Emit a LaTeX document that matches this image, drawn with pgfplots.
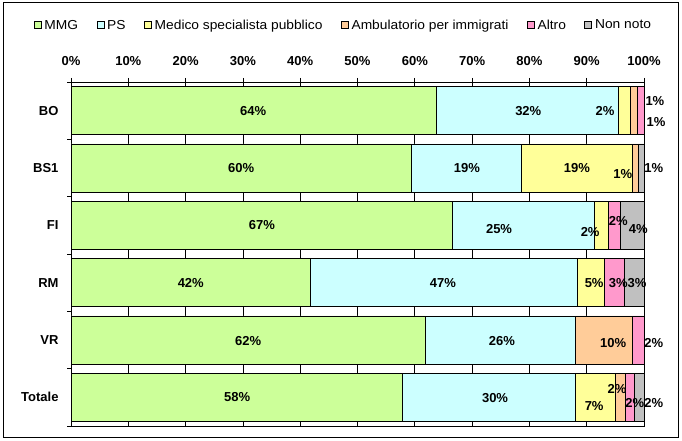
\documentclass[border=0pt]{standalone}
\usepackage{fontspec}
\setmainfont{Liberation Sans}
\newfontfamily\legfont[FakeStretch=1.06]{Liberation Sans}
\usepackage{pgfplots}
\pgfplotsset{compat=1.18}
\definecolor{cMMG}{RGB}{204,255,153}
\definecolor{cPS}{RGB}{204,255,255}
\definecolor{cMed}{RGB}{255,255,153}
\definecolor{cAmb}{RGB}{255,204,153}
\definecolor{cAlt}{RGB}{255,153,204}
\definecolor{cNN}{RGB}{192,192,192}
\begin{document}
\begin{tikzpicture}[x=1bp,y=1bp]
\useasboundingbox (0,0) rectangle (682,441);
\draw[line width=0.8bp] (3,4) rectangle (678.5,439);
\begin{axis}[
  at={(71bp,15bp)}, anchor=south west,
  scale only axis, width=573bp, height=344bp,
  xbar stacked, bar width=48bp,
  xmin=0, xmax=100, ymin=-0.5, ymax=5.5, y dir=reverse,
  xtick={0,10,...,100},
  xticklabels={0\%,10\%,20\%,30\%,40\%,50\%,60\%,70\%,80\%,90\%,100\%},
  xtick pos=right, xticklabel pos=right,
  xticklabel shift=9bp,
  ytick={-0.5,0.5,...,5.5}, y tick label as interval,
  yticklabels={BO,BS1,FI,RM,VR,Totale},
  ytick pos=left,
  yticklabel shift=5bp,
  tick align=outside, major tick length=4bp,
  xmajorgrids, grid style={black, line width=0.7bp},
  axis line style={line width=0.7bp},
  tick style={black, line width=0.7bp},
  ticklabel style={font=\fontsize{13bp}{15bp}\selectfont\bfseries},
  clip=false,
  every axis plot/.append style={draw=black, line width=0.7bp},
  legend image code/.code={\draw[#1,draw=black,line width=0.6bp] (0bp,-3.5bp) rectangle (7bp,3.5bp);},
  legend style={at={(0.475,1.165)}, anchor=center, draw=none, fill=none,
    legend columns=-1,
    /tikz/every even column/.append style={column sep=17bp},
    /tikz/every odd column/.append style={column sep=1.5bp},
    font=\legfont\fontsize{13bp}{15bp}\selectfont, inner sep=0pt, nodes={inner sep=1.5bp}},
]
\addplot[fill=cMMG] coordinates {(63.7,0) (59.4,1) (66.5,2) (41.8,3) (61.8,4) (57.8,5)};
\addplot[fill=cPS]  coordinates {(31.8,0) (19.2,1) (24.9,2) (46.6,3) (26.2,4) (30.2,5)};
\addplot[fill=cMed] coordinates {(2.2,0) (19.4,1) (2.4,2) (4.7,3) (0,4) (7.0,5)};
\addplot[fill=cAmb] coordinates {(1.2,0) (1.0,1) (0,2) (0,3) (10.0,4) (1.8,5)};
\addplot[fill=cAlt] coordinates {(1.1,0) (0,1) (2.1,2) (3.4,3) (2.0,4) (1.5,5)};
\addplot[fill=cNN]  coordinates {(0,0) (1.0,1) (4.1,2) (3.5,3) (0,4) (1.7,5)};
\legend{MMG,PS,Medico specialista pubblico,Ambulatorio per immigrati,Altro,Non noto}
% label anchor points (axis coordinates)
\coordinate (a1) at (axis cs:31.8,0);
\coordinate (a2) at (axis cs:79.8,0);
\coordinate (a3) at (axis cs:93.2,0);
\coordinate (a4) at (axis cs:101.9,-0.17);
\coordinate (a5) at (axis cs:102.1,0.2);
\coordinate (b1) at (axis cs:29.7,1);
\coordinate (b2) at (axis cs:69.1,1);
\coordinate (b3) at (axis cs:88.3,1);
\coordinate (b4) at (axis cs:96.3,1.1);
\coordinate (b5) at (axis cs:101.7,1);
\coordinate (c1) at (axis cs:33.3,2);
\coordinate (c2) at (axis cs:74.7,2.06);
\coordinate (c3) at (axis cs:90.6,2.12);
\coordinate (c4) at (axis cs:95.5,1.93);
\coordinate (c5) at (axis cs:99.0,2.06);
\coordinate (d1) at (axis cs:20.9,3);
\coordinate (d2) at (axis cs:64.9,3);
\coordinate (d3) at (axis cs:91.3,3);
\coordinate (d4) at (axis cs:95.5,3);
\coordinate (d5) at (axis cs:98.8,3);
\coordinate (e1) at (axis cs:30.9,4.02);
\coordinate (e2) at (axis cs:75.2,4.02);
\coordinate (e3) at (axis cs:94.6,4.05);
\coordinate (e4) at (axis cs:101.7,4.05);
\coordinate (f1) at (axis cs:29.0,5);
\coordinate (f2) at (axis cs:74.0,5.02);
\coordinate (f3) at (axis cs:91.3,5.15);
\coordinate (f4) at (axis cs:95.3,4.85);
\coordinate (f5) at (axis cs:98.4,5.1);
\coordinate (f6) at (axis cs:101.7,5.1);
\end{axis}
\tikzset{lbl/.style={font=\fontsize{13bp}{15bp}\selectfont\bfseries, inner sep=0pt}}
\node[lbl] at (a1) {64\%};
\node[lbl] at (a2) {32\%};
\node[lbl] at (a3) {2\%};
\node[lbl] at (a4) {1\%};
\node[lbl] at (a5) {1\%};
\node[lbl] at (b1) {60\%};
\node[lbl] at (b2) {19\%};
\node[lbl] at (b3) {19\%};
\node[lbl] at (b4) {1\%};
\node[lbl] at (b5) {1\%};
\node[lbl] at (c1) {67\%};
\node[lbl] at (c2) {25\%};
\node[lbl] at (c3) {2\%};
\node[lbl] at (c4) {2\%};
\node[lbl] at (c5) {4\%};
\node[lbl] at (d1) {42\%};
\node[lbl] at (d2) {47\%};
\node[lbl] at (d3) {5\%};
\node[lbl] at (d4) {3\%};
\node[lbl] at (d5) {3\%};
\node[lbl] at (e1) {62\%};
\node[lbl] at (e2) {26\%};
\node[lbl] at (e3) {10\%};
\node[lbl] at (e4) {2\%};
\node[lbl] at (f1) {58\%};
\node[lbl] at (f2) {30\%};
\node[lbl] at (f3) {7\%};
\node[lbl] at (f4) {2\%};
\node[lbl] at (f5) {2\%};
\node[lbl] at (f6) {2\%};
\end{tikzpicture}
\end{document}
